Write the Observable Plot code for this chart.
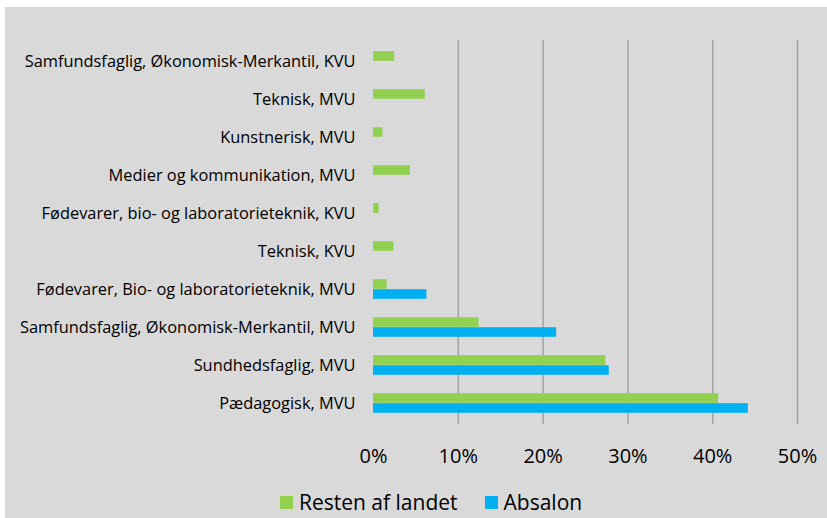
<!DOCTYPE html>
<html>
<head>
<meta charset="utf-8">
<script src="https://cdn.jsdelivr.net/npm/d3@7"></script>
<script src="https://cdn.jsdelivr.net/npm/@observablehq/plot@0.6"></script>
<style>
  html, body { margin: 0; padding: 0; background: #ffffff; }
  #panel {
    position: absolute; left: 5px; top: 7px; width: 822px; height: 511px;
    background: #d9d9d9; overflow: hidden; font-family: "Open Sans", sans-serif;
  }
  #chart { position: absolute; left: 0; top: 0; }
  #legend {
    position: absolute; left: 275px; top: 483px; height: 24px;
    display: flex; align-items: center; font-size: 21px; color: #000; white-space: nowrap;
  }
  .sw { display: inline-block; width: 13px; height: 13px; margin-right: 6px; }
  .item { display: flex; align-items: center; margin-right: 27px; }
</style>
</head>
<body>
<div id="panel">
  <div id="chart"></div>
  <div id="legend"></div>
</div>
<script>
const categories = [
  "Samfundsfaglig, Økonomisk-Merkantil, KVU",
  "Teknisk, MVU",
  "Kunstnerisk, MVU",
  "Medier og kommunikation, MVU",
  "Fødevarer, bio- og laboratorieteknik, KVU",
  "Teknisk, KVU",
  "Fødevarer, Bio- og laboratorieteknik, MVU",
  "Samfundsfaglig, Økonomisk-Merkantil, MVU",
  "Sundhedsfaglig, MVU",
  "Pædagogisk, MVU"
];
const restenAfLandet = [2.5, 6.1, 1.1, 4.35, 0.67, 2.4, 1.6, 12.45, 27.4, 40.7];
const absalon = [null, null, null, null, null, null, 6.3, 21.6, 27.8, 44.2];
const seriesNames = ["Resten af landet", "Absalon"];
const seriesColors = ["#92d050", "#00b0f0"];
const xTicks = [0, 0.1, 0.2, 0.3, 0.4, 0.5];

const restenData = categories.map((c, i) => ({category: c, value: restenAfLandet[i] / 100}));
const absalonData = categories
  .map((c, i) => ({category: c, value: absalon[i] == null ? null : absalon[i] / 100}))
  .filter(d => d.value != null);

const fmt = d3.format(".0%");

const chart = Plot.plot({
  width: 822,
  height: 480,
  marginLeft: 368,
  marginRight: 30,
  marginTop: 33,
  marginBottom: 63,
  style: {background: "transparent", fontFamily: "Open Sans, sans-serif", color: "#000", overflow: "visible"},
  x: {domain: [0, 0.5], ticks: xTicks, tickFormat: fmt, label: null},
  y: {domain: categories, padding: 0, label: null},
  marks: [
    Plot.gridX(xTicks.slice(1), {stroke: "#a3a3a3", strokeWidth: 1.5, strokeOpacity: 1}),
    Plot.barX(restenData, {x: "value", y: "category", fill: seriesColors[0], insetTop: 9.2, insetBottom: 19.2}),
    Plot.barX(absalonData, {x: "value", y: "category", fill: seriesColors[1], insetTop: 19.2, insetBottom: 9.2}),
    Plot.axisX({ticks: xTicks, tickFormat: fmt, tickSize: 0, tickPadding: 24, fontSize: 20, label: null}),
    Plot.axisY({tickSize: 0, tickPadding: 18, fontSize: 16.4, label: null})
  ]
});
document.getElementById("chart").appendChild(chart);

const legend = document.getElementById("legend");
seriesNames.forEach((name, i) => {
  const item = document.createElement("span");
  item.className = "item";
  const sw = document.createElement("span");
  sw.className = "sw";
  sw.style.background = seriesColors[i];
  item.appendChild(sw);
  item.appendChild(document.createTextNode(name));
  legend.appendChild(item);
});
</script>
</body>
</html>
